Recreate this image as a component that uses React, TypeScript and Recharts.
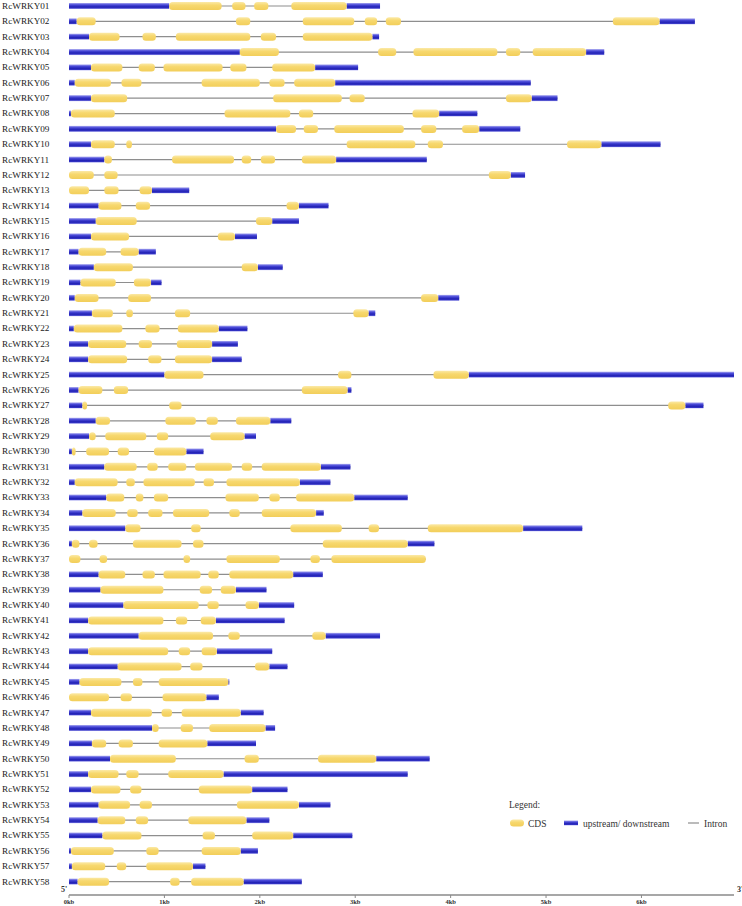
import { Bar, ComposedChart, Legend, XAxis, YAxis } from 'recharts'

// Gene names, top to bottom
const genes = [
  'RcWRKY01', 'RcWRKY02', 'RcWRKY03', 'RcWRKY04', 'RcWRKY05', 'RcWRKY06', 'RcWRKY07', 'RcWRKY08', 'RcWRKY09', 'RcWRKY10',
  'RcWRKY11', 'RcWRKY12', 'RcWRKY13', 'RcWRKY14', 'RcWRKY15', 'RcWRKY16', 'RcWRKY17', 'RcWRKY18', 'RcWRKY19', 'RcWRKY20',
  'RcWRKY21', 'RcWRKY22', 'RcWRKY23', 'RcWRKY24', 'RcWRKY25', 'RcWRKY26', 'RcWRKY27', 'RcWRKY28', 'RcWRKY29', 'RcWRKY30',
  'RcWRKY31', 'RcWRKY32', 'RcWRKY33', 'RcWRKY34', 'RcWRKY35', 'RcWRKY36', 'RcWRKY37', 'RcWRKY38', 'RcWRKY39', 'RcWRKY40',
  'RcWRKY41', 'RcWRKY42', 'RcWRKY43', 'RcWRKY44', 'RcWRKY45', 'RcWRKY46', 'RcWRKY47', 'RcWRKY48', 'RcWRKY49', 'RcWRKY50',
  'RcWRKY51', 'RcWRKY52', 'RcWRKY53', 'RcWRKY54', 'RcWRKY55', 'RcWRKY56', 'RcWRKY57', 'RcWRKY58',
]

// total gene length (kb)
const geneLengthKb = [
  3.26, 6.56, 3.25, 5.61, 3.03, 4.84, 5.12, 4.28, 4.73, 6.2,
  3.75, 4.78, 1.26, 2.72, 2.41, 1.97, 0.91, 2.24, 0.97, 4.09,
  3.21, 1.87, 1.77, 1.81, 6.97, 2.96, 6.65, 2.33, 1.96, 1.41,
  2.95, 2.74, 3.55, 2.67, 5.38, 3.83, 3.74, 2.66, 2.07, 2.36,
  2.26, 3.26, 2.13, 2.29, 1.68, 1.57, 2.04, 2.16, 1.96, 3.78,
  3.55, 2.29, 2.74, 2.1, 2.97, 1.98, 1.43, 2.44,
]

// end of the 5' upstream region (0 = none)
const utr5EndKb = [
  1.05, 0.08, 0.21, 1.79, 0.23, 0.06, 0.23, 0.02, 2.17, 0.23,
  0.37, 0, 0, 0.31, 0.28, 0.23, 0.1, 0.26, 0.12, 0.06,
  0.24, 0.05, 0.2, 0.2, 1.0, 0.1, 0.14, 0.28, 0.21, 0.03,
  0.37, 0.06, 0.39, 0.14, 0.59, 0.03, 0, 0.31, 0.33, 0.57,
  0.2, 0.73, 0.2, 0.51, 0.11, 0, 0.23, 0.87, 0.24, 0.43,
  0.2, 0.23, 0.31, 0.3, 0.35, 0.02, 0.03, 0.09,
]

// start of the 3' downstream region (= length when none)
const utr3StartKb = [
  2.91, 6.19, 3.18, 5.42, 2.58, 2.79, 4.85, 3.88, 4.3, 5.58,
  2.8, 4.63, 0.87, 2.41, 2.13, 1.74, 0.73, 1.98, 0.86, 3.87,
  3.14, 1.57, 1.5, 1.5, 4.19, 2.92, 6.46, 2.11, 1.84, 1.23,
  2.64, 2.42, 2.99, 2.59, 4.76, 3.55, 3.74, 2.35, 1.75, 1.99,
  1.54, 2.69, 1.55, 2.1, 1.67, 1.44, 1.8, 2.06, 1.45, 3.22,
  1.62, 1.92, 2.41, 1.86, 2.35, 1.8, 1.3, 1.83,
]

// CDS exons [start, end] in kb
const cdsExonsKb = [
  [[1.05, 1.6], [1.71, 1.85], [1.94, 2.09], [2.33, 2.91]],
  [[0.08, 0.28], [1.75, 1.9], [2.45, 2.99], [3.1, 3.23], [3.32, 3.48], [5.7, 6.19]],
  [[0.21, 0.53], [0.77, 0.91], [1.12, 1.9], [2.01, 2.17], [2.45, 3.18]],
  [[1.79, 2.2], [3.24, 3.43], [3.61, 4.49], [4.58, 4.73], [4.86, 5.42]],
  [[0.23, 0.56], [0.73, 0.9], [0.99, 1.61], [1.69, 1.86], [2.13, 2.58]],
  [[0.06, 0.44], [0.55, 0.76], [1.39, 2.0], [2.1, 2.26], [2.36, 2.79]],
  [[0.23, 0.61], [2.14, 2.86], [2.94, 3.1], [4.58, 4.85]],
  [[0.02, 0.48], [1.63, 2.32], [2.41, 2.56], [3.6, 3.88]],
  [[2.17, 2.38], [2.46, 2.61], [2.78, 3.51], [3.69, 3.85], [4.12, 4.3]],
  [[0.23, 0.48], [0.6, 0.66], [2.91, 3.63], [3.76, 3.92], [5.22, 5.58]],
  [[0.37, 0.45], [1.08, 1.73], [1.81, 1.91], [2.01, 2.16], [2.44, 2.8]],
  [[0, 0.26], [0.37, 0.51], [4.4, 4.63]],
  [[0, 0.21], [0.37, 0.52], [0.74, 0.87]],
  [[0.31, 0.55], [0.7, 0.85], [2.28, 2.41]],
  [[0.28, 0.71], [1.96, 2.13]],
  [[0.23, 0.63], [1.56, 1.74]],
  [[0.1, 0.39], [0.54, 0.73]],
  [[0.26, 0.67], [1.81, 1.98]],
  [[0.12, 0.49], [0.68, 0.86]],
  [[0.06, 0.31], [0.62, 0.86], [3.69, 3.87]],
  [[0.24, 0.46], [0.6, 0.67], [1.11, 1.27], [2.98, 3.14]],
  [[0.05, 0.56], [0.8, 0.95], [1.14, 1.57]],
  [[0.2, 0.6], [0.73, 0.87], [1.13, 1.5]],
  [[0.2, 0.61], [0.83, 0.97], [1.11, 1.5]],
  [[1.0, 1.41], [2.82, 2.96], [3.82, 4.19]],
  [[0.1, 0.35], [0.47, 0.62], [2.44, 2.92]],
  [[0.14, 0.19], [1.05, 1.18], [6.28, 6.46]],
  [[0.28, 0.43], [1.01, 1.33], [1.44, 1.56], [1.75, 2.11]],
  [[0.21, 0.28], [0.38, 0.81], [0.92, 1.04], [1.48, 1.84]],
  [[0.03, 0.07], [0.18, 0.42], [0.51, 0.63], [0.89, 1.23]],
  [[0.37, 0.71], [0.82, 0.93], [1.04, 1.23], [1.32, 1.71], [1.81, 1.92], [2.02, 2.64]],
  [[0.06, 0.51], [0.6, 0.69], [0.78, 1.32], [1.41, 1.52], [1.65, 2.42]],
  [[0.39, 0.58], [0.7, 0.78], [0.89, 1.04], [1.64, 1.99], [2.1, 2.21], [2.38, 2.99]],
  [[0.14, 0.49], [0.61, 0.72], [0.83, 0.98], [1.09, 1.47], [1.68, 1.79], [2.02, 2.59]],
  [[0.59, 0.75], [1.28, 1.38], [2.32, 2.86], [3.14, 3.25], [3.76, 4.76]],
  [[0.03, 0.11], [0.21, 0.3], [0.67, 1.18], [1.3, 1.41], [2.66, 3.55]],
  [[0, 0.12], [0.32, 0.4], [1.2, 1.27], [1.65, 2.21], [2.53, 2.63], [2.75, 3.74]],
  [[0.31, 0.59], [0.77, 0.9], [0.99, 1.38], [1.46, 1.57], [1.68, 2.35]],
  [[0.33, 0.99], [1.37, 1.5], [1.59, 1.75]],
  [[0.57, 1.36], [1.45, 1.57], [1.85, 1.99]],
  [[0.2, 0.99], [1.12, 1.24], [1.38, 1.54]],
  [[0.73, 1.51], [1.67, 1.79], [2.55, 2.69]],
  [[0.2, 1.04], [1.15, 1.27], [1.39, 1.55]],
  [[0.51, 1.18], [1.27, 1.4], [1.95, 2.1]],
  [[0.11, 0.55], [0.67, 0.77], [0.94, 1.67]],
  [[0, 0.42], [0.54, 0.66], [0.98, 1.44]],
  [[0.23, 0.87], [0.97, 1.08], [1.18, 1.8]],
  [[0.87, 0.94], [1.17, 1.3], [1.47, 2.06]],
  [[0.24, 0.39], [0.52, 0.67], [0.94, 1.45]],
  [[0.43, 1.12], [1.84, 1.99], [2.61, 3.22]],
  [[0.2, 0.52], [0.6, 0.73], [1.04, 1.62]],
  [[0.23, 0.54], [0.64, 0.76], [1.36, 1.92]],
  [[0.31, 0.64], [0.74, 0.87], [1.76, 2.41]],
  [[0.3, 0.59], [0.7, 0.83], [1.25, 1.86]],
  [[0.35, 0.76], [1.4, 1.53], [1.92, 2.35]],
  [[0.02, 0.47], [0.81, 0.94], [1.39, 1.8]],
  [[0.03, 0.38], [0.5, 0.6], [0.81, 1.3]],
  [[0.09, 0.42], [1.06, 1.16], [1.28, 1.83]],
]

const kbTicks = [0, 1, 2, 3, 4, 5, 6]
const legendNames = ['CDS', 'upstream/ downstream', 'Intron']

const MAX_EXONS = 6
const cdsKeys = Array.from({ length: MAX_EXONS }, (_, k) => `cds${k}`)
const FONT = "'Liberation Serif', 'Times New Roman', serif"

// one row per gene, every segment as a [start, end] range
const rows = genes.map((gene, i) => {
  const row: any = {
    gene,
    intron: [0, geneLengthKb[i]],
    utr5: utr5EndKb[i] > 0 ? [0, utr5EndKb[i]] : null,
    utr3: geneLengthKb[i] > utr3StartKb[i] ? [utr3StartKb[i], geneLengthKb[i]] : null,
  }
  cdsKeys.forEach((key, k) => {
    row[key] = cdsExonsKb[i][k] ?? null
  })
  return row
})

const IntronShape = (p: any) => {
  const cy = p.y + p.height / 2
  return <line x1={p.x} x2={p.x + p.width} y1={cy} y2={cy} stroke='#8e8e8e' strokeWidth={1.2} />
}

const makeBox = (key: string, kind: 'utr' | 'cds') => (p: any) => {
  if (!p.payload || p.payload[key] == null || !(p.width > 0)) return <g />
  const cy = p.y + p.height / 2
  if (kind === 'utr') {
    return <rect x={p.x} y={cy - 3} width={p.width} height={6} fill='url(#utrFill)' />
  }
  return <rect x={p.x} y={cy - 4} width={p.width} height={8} rx={3.5} ry={3.5} fill='url(#cdsFill)' />
}

const GeneTick = ({ y, payload }: any) => (
  <text x={2} y={y + 3.2} fontSize={9.2} fontFamily={FONT} fill='#222'>
    {payload.value}
  </text>
)

const KbTick = ({ x, y, payload }: any) => (
  <text x={x} y={y + 5} textAnchor='middle' fontSize={6.5} fontWeight='bold' fontFamily={FONT} fill='#333'>
    {`${payload.value}kb`}
  </text>
)

const EndLabels = ({ viewBox }: any) => (
  <g fontFamily={FONT} fontSize={8} fontWeight='bold' fill='#333'>
    <text x={viewBox.x - 8} y={viewBox.y - 3}>5'</text>
    <text x={viewBox.x + viewBox.width + 3} y={viewBox.y - 3}>3'</text>
  </g>
)

const GeneLegend = () => (
  <svg width={237} height={34} style={{ display: 'block' }}>
    <g fontFamily={FONT} fontSize={9.5} fill='#333'>
      <text x={4} y={12}>Legend:</text>
      <rect x={5} y={23.5} width={14} height={7} rx={3.5} fill='url(#cdsFill)' />
      <text x={23} y={30.5}>{legendNames[0]}</text>
      <rect x={59} y={24.5} width={14} height={5} fill='url(#utrFill)' />
      <text x={78} y={30.5}>{legendNames[1]}</text>
      <line x1={183} x2={194} y1={27} y2={27} stroke='#8e8e8e' strokeWidth={1.2} />
      <text x={199} y={30.5}>{legendNames[2]}</text>
    </g>
  </svg>
)

export default function App() {
  return (
    <div style={{ position: 'absolute', left: 0, top: 0, background: '#fff' }}>
      {/* shared gradients for the legend svg too */}
      <svg width={0} height={0} style={{ position: 'absolute' }}>
        <defs>
          <linearGradient id='utrFill' x1='0' y1='0' x2='0' y2='1'>
            <stop offset='0%' stopColor='#a9a9f0' />
            <stop offset='30%' stopColor='#4a4ad8' />
            <stop offset='65%' stopColor='#2323b6' />
            <stop offset='85%' stopColor='#3434c4' />
            <stop offset='100%' stopColor='#b8b8f4' />
          </linearGradient>
          <linearGradient id='cdsFill' x1='0' y1='0' x2='0' y2='1'>
            <stop offset='0%' stopColor='#fbe9a6' />
            <stop offset='40%' stopColor='#f7d86e' />
            <stop offset='100%' stopColor='#f2ce5a' />
          </linearGradient>
        </defs>
      </svg>
      <ComposedChart
        width={742}
        height={906}
        data={rows}
        layout='vertical'
        barSize={10}
        barGap={-10}
        margin={{ top: -2, right: 8, bottom: 0, left: 0 }}
      >
        <XAxis
          type='number'
          domain={[0, 6.97]}
          ticks={kbTicks}
          allowDataOverflow
          height={11}
          axisLine={{ stroke: '#8a8a8a', strokeWidth: 1.5 }}
          tickLine={{ stroke: '#8a8a8a' }}
          tickSize={3}
          tickMargin={1}
          tick={<KbTick />}
          label={{ content: <EndLabels /> }}
        />
        <YAxis
          type='category'
          dataKey='gene'
          width={69}
          interval={0}
          axisLine={false}
          tickLine={false}
          padding={{ top: 0, bottom: 6 }}
          tick={<GeneTick />}
        />
        <Bar dataKey='intron' shape={IntronShape} isAnimationActive={false} />
        <Bar dataKey='utr5' shape={makeBox('utr5', 'utr')} isAnimationActive={false} />
        <Bar dataKey='utr3' shape={makeBox('utr3', 'utr')} isAnimationActive={false} />
        {cdsKeys.map((key) => (
          <Bar key={key} dataKey={key} shape={makeBox(key, 'cds')} isAnimationActive={false} />
        ))}
        <Legend
          layout='horizontal'
          verticalAlign='middle'
          align='center'
          content={<GeneLegend />}
          wrapperStyle={{ left: 505, top: 796, width: 237 }}
        />
      </ComposedChart>
    </div>
  )
}
